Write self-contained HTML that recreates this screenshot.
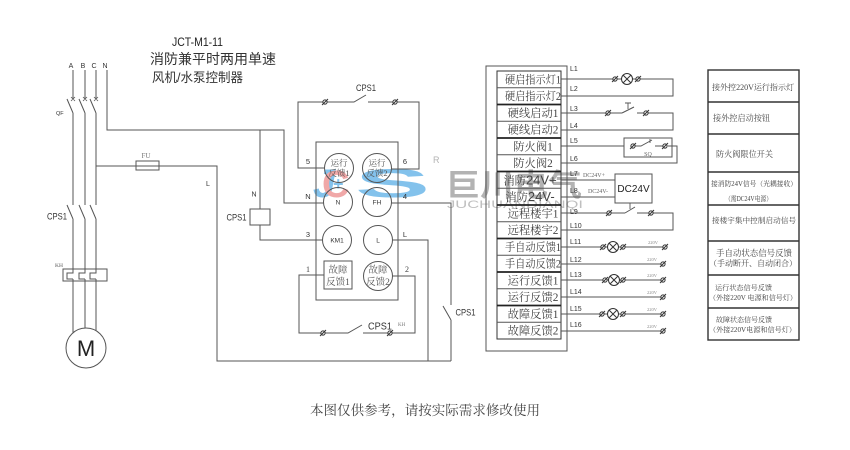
<!DOCTYPE html>
<html><head><meta charset="utf-8"><style>
html,body{margin:0;padding:0;background:#fff;}
svg{display:block;}
</style></head><body>
<svg width="850" height="450" viewBox="0 0 850 450" xmlns="http://www.w3.org/2000/svg">
<defs>
<g id="o"><circle r="2.1" fill="#fff" stroke="#333" stroke-width="1"/><line x1="-3" y1="3" x2="3" y2="-3" stroke="#333" stroke-width="1"/></g>
<g id="lamp"><circle r="5.5" fill="#fff" stroke="#333"/><line x1="-3.9" y1="-3.9" x2="3.9" y2="3.9" stroke="#333"/><line x1="-3.9" y1="3.9" x2="3.9" y2="-3.9" stroke="#333"/></g>
</defs>
<rect width="850" height="450" fill="#fff"/>

<!-- watermark -->
<g opacity="0.75">
<text x="313" y="197" font-family="Liberation Sans, sans-serif" font-weight="bold" font-style="italic" font-size="40" fill="#5aaee6">J</text>
<text x="322" y="197" font-family="Liberation Sans, sans-serif" font-weight="bold" font-size="38" fill="#ec8c8c">C</text>
<text x="333" y="190" font-family="Liberation Sans, sans-serif" font-weight="bold" font-size="18" fill="#5aaee6">+</text>
<text x="355" y="197" font-family="Liberation Sans, sans-serif" font-weight="bold" font-size="40" fill="#5aaee6" textLength="75" lengthAdjust="spacingAndGlyphs">S</text>
<text x="433" y="163" font-family="Liberation Sans, sans-serif" font-size="9" fill="#999">R</text>
<text x="446" y="196" font-family="Liberation Sans, 'Noto Sans CJK SC', sans-serif" font-weight="bold" font-size="31" fill="#9a9a9a" textLength="136" lengthAdjust="spacingAndGlyphs">巨川电气</text>
<text x="447" y="208" font-family="Liberation Sans, sans-serif" font-size="11" fill="#aaa" textLength="136" lengthAdjust="spacingAndGlyphs">JUCHUANDIANQI</text>
</g>

<!-- title -->
<text x="172" y="46" font-family="Liberation Sans, sans-serif" font-size="12" fill="#222" textLength="51" lengthAdjust="spacingAndGlyphs">JCT-M1-11</text>
<text x="150" y="64" font-family="Liberation Sans, 'Noto Sans CJK SC', sans-serif" font-size="14" fill="#333" textLength="126" lengthAdjust="spacingAndGlyphs">消防兼平时两用单速</text>
<text x="152" y="82" font-family="Liberation Sans, 'Noto Sans CJK SC', sans-serif" font-size="13" fill="#333" textLength="91" lengthAdjust="spacingAndGlyphs">风机/水泵控制器</text>

<g font-family="Liberation Sans, sans-serif" font-size="7" fill="#333" text-anchor="middle">
<text x="71" y="68">A</text><text x="83" y="68">B</text><text x="94" y="68">C</text><text x="105" y="68">N</text>
</g>
<text x="56" y="115" font-family="Liberation Sans, sans-serif" font-size="5.5" fill="#333">QF</text>
<text x="55" y="267" font-family="Liberation Serif, serif" font-size="5.5" fill="#555">KH</text>
<text x="146" y="158" font-family="Liberation Serif, serif" font-size="7" fill="#777" text-anchor="middle">FU</text>

<g stroke="#555" stroke-width="1" fill="none">
<!-- three phase lines -->
<path d="M73,70V99 M67,99L73,113 M73,113V205 M67,205L73,219 M73,219V273 H67V279H73 M73,279V333"/>
<path d="M85,70V99 M79,99L85,113 M85,113V205 M79,205L85,219 M85,219V273 H79V279H85 M85,279V328"/>
<path d="M96,70V99 M90,99L96,113 M96,113V205 M90,205L96,219 M96,219V273 H90V279H96 M96,279V331"/>
<path d="M71,97l4,4 M75,97l-4,4 M83,97l4,4 M87,97l-4,4 M94,97l4,4 M98,97l-4,4" stroke-width="0.8"/>
<rect x="63" y="269" width="44" height="12"/>
<circle cx="86" cy="348" r="20"/>
<!-- N -->
<path d="M107,70V130H284V203H323.5"/>
<path d="M260,130V209 M260,225V240H322.5"/>
<rect x="250" y="209" width="20" height="16"/>
<!-- L with fuse -->
<path d="M96,166H217V361H451"/>
<rect x="136" y="161" width="23" height="9"/>
<path d="M392.5,240H428V361"/>
<path d="M391.5,203H451V305 M443,306L451,320 M451,320V361"/>
<!-- top loop -->
<path d="M324.5,168H298V102H354L366,95 M368,102H419V169H391.5"/>
<!-- bottom loop -->
<path d="M324,275H299V333H348L362,325 M363,333H415V276H392.5"/>
<!-- module -->
<rect x="316" y="142" width="82" height="158"/>
<circle cx="339" cy="168" r="14.5"/>
<circle cx="377" cy="168" r="14.5"/>
<circle cx="338" cy="202" r="14.5"/>
<circle cx="377" cy="202" r="14.5"/>
<circle cx="337" cy="240" r="14.5"/>
<circle cx="378" cy="240" r="14.5"/>
<circle cx="378" cy="276" r="14.5"/>
<rect x="324" y="261" width="28" height="28"/>
</g>
<use href="#o" x="325" y="102"/><use href="#o" x="395" y="102"/>
<use href="#o" x="323" y="333"/><use href="#o" x="390" y="333"/>

<text x="86" y="356" font-family="Liberation Sans, sans-serif" font-size="22" fill="#222" text-anchor="middle">M</text>

<g font-family="Liberation Sans, sans-serif" fill="#333">
<text x="57" y="219.5" font-size="9.5" text-anchor="middle" textLength="20" lengthAdjust="spacingAndGlyphs">CPS1</text>
<text x="236.5" y="220.5" font-size="9.5" text-anchor="middle" textLength="20" lengthAdjust="spacingAndGlyphs">CPS1</text>
<text x="366" y="91" font-size="9.5" text-anchor="middle" textLength="20" lengthAdjust="spacingAndGlyphs">CPS1</text>
<text x="465.5" y="315.5" font-size="9.5" text-anchor="middle" textLength="20" lengthAdjust="spacingAndGlyphs">CPS1</text>
<text x="380" y="329.5" font-size="10" text-anchor="middle" textLength="24" lengthAdjust="spacingAndGlyphs">CPS1</text>
<text x="208" y="186" font-size="7" text-anchor="middle">L</text>
<text x="254" y="196.5" font-size="7" text-anchor="middle">N</text>
<g font-size="7.5" text-anchor="middle">
<text x="308" y="164">5</text><text x="405" y="164">6</text>
<text x="308" y="199">N</text><text x="405" y="199">4</text>
<text x="308" y="237">3</text><text x="405" y="237">L</text>
</g>
<g font-size="6.5" text-anchor="middle">
<text x="338" y="204.5">N</text><text x="377" y="204.5">FH</text>
<text x="337" y="242.5">KM1</text><text x="378" y="242.5">L</text>
</g>
</g>
<text x="398" y="326" font-family="Liberation Serif, serif" font-size="5" fill="#777">KH</text>
<g font-family="Liberation Serif, serif" font-size="8" fill="#444" text-anchor="middle">
<text x="308" y="272">1</text><text x="407" y="272">2</text>
</g>
<g font-family="Liberation Serif, 'Noto Serif CJK SC', serif" fill="#555" text-anchor="middle">
<text x="339" y="166" font-size="8.5">运行</text><text x="339" y="176" font-size="8.5">反馈1</text>
<text x="377" y="166" font-size="8.5">运行</text><text x="377" y="176" font-size="8.5">反馈2</text>
<text x="338" y="273" font-size="9.5">故障</text><text x="338" y="285" font-size="9.5">反馈1</text>
<text x="378" y="273" font-size="9.5">故障</text><text x="378" y="285" font-size="9.5">反馈2</text>
</g>

<!-- terminal block -->
<g stroke="#555" fill="none">
<rect x="486" y="66" width="81" height="285"/>
<rect x="497" y="71" width="64" height="268" stroke="#333"/>
<path d="M497,87.75H561 M497,121.25H561 M497,154.75H561 M497,188.25H561 M497,221.75H561 M497,255.25H561 M497,288.75H561 M497,322.25H561"/>
<path d="M497,104.5H561 M497,138H561 M497,171.5H561 M497,205H561 M497,238.5H561 M497,272H561 M497,305.5H561" stroke="#222" stroke-width="1.8"/>
</g>
<g font-family="Liberation Serif, 'Noto Serif CJK SC', serif" font-size="11.3" fill="#444" text-anchor="middle">
<text x="533" y="83.4" textLength="56" lengthAdjust="spacingAndGlyphs">硬启指示灯1</text>
<text x="533" y="100.1" textLength="56" lengthAdjust="spacingAndGlyphs">硬启指示灯2</text>
<text x="533" y="116.9">硬线启动1</text>
<text x="533" y="133.6">硬线启动2</text>
<text x="533" y="150.4">防火阀1</text>
<text x="533" y="167.1">防火阀2</text>
<text x="530" y="184.4">消防<tspan font-family="Liberation Sans, sans-serif" font-size="13">24V+</tspan></text>
<text x="530" y="201.1">消防<tspan font-family="Liberation Sans, sans-serif" font-size="13">24V-</tspan></text>
<text x="533" y="217.4">远程楼宇1</text>
<text x="533" y="234.1">远程楼宇2</text>
<text x="533" y="250.9" textLength="56" lengthAdjust="spacingAndGlyphs">手自动反馈1</text>
<text x="533" y="267.6" textLength="56" lengthAdjust="spacingAndGlyphs">手自动反馈2</text>
<text x="533" y="284.4">运行反馈1</text>
<text x="533" y="301.1">运行反馈2</text>
<text x="533" y="317.9">故障反馈1</text>
<text x="533" y="334.6">故障反馈2</text>
</g>
<g font-family="Liberation Sans, sans-serif" font-size="7" fill="#333">
<text x="570" y="71">L1</text><text x="570" y="91">L2</text>
<text x="570" y="111">L3</text><text x="570" y="128">L4</text>
<text x="570" y="143">L5</text><text x="570" y="161">L6</text>
<text x="570" y="176">L7</text><text x="570" y="193">L8</text>
<text x="570" y="214">L9</text><text x="570" y="228">L10</text>
<text x="570" y="244">L11</text><text x="570" y="262">L12</text>
<text x="570" y="277">L13</text><text x="570" y="294">L14</text>
<text x="570" y="311">L15</text><text x="570" y="327">L16</text>
</g>

<!-- wiring -->
<g stroke="#555" fill="none">
<path d="M561,79H673V96H561"/>
<path d="M561,113H622 M622,113L634,107 M637,113H673V130H561"/>
<path d="M628,103V109 M625,103H631" stroke-width="0.9"/>
<path d="M561,146H624 M668,146H677V163H561"/>
<rect x="624" y="138" width="48" height="19"/>
<path d="M633,146H641 L652,140 M650,139V143 M655,146H665" stroke-width="0.9"/>
<path d="M561,180H615 M561,197H615"/>
<rect x="615" y="174" width="37" height="29"/>
<path d="M561,213H625 M625,213L635,207 M637,213H673V230H561"/>
<path d="M630,203V209 M627,203H633" stroke-width="0.9"/>
<path d="M561,247H665"/>
<path d="M561,264H663"/>
<path d="M561,280H663"/>
<path d="M561,297H663"/>
<path d="M561,314H663"/>
<path d="M561,331H663"/>
</g>
<use href="#o" x="615" y="79"/><use href="#lamp" x="627" y="79"/><use href="#o" x="638" y="79"/>
<use href="#o" x="608" y="113"/><use href="#o" x="646" y="113"/>
<use href="#o" x="633" y="146"/><use href="#o" x="665" y="146"/>
<use href="#o" x="609" y="213"/><use href="#o" x="651" y="213"/>
<use href="#o" x="603" y="247"/><use href="#lamp" x="613" y="247"/><use href="#o" x="623" y="247"/><use href="#o" x="665" y="247"/>
<use href="#o" x="663" y="264"/>
<use href="#o" x="605" y="280"/><use href="#lamp" x="614" y="280"/><use href="#o" x="623" y="280"/><use href="#o" x="663" y="280"/>
<use href="#o" x="663" y="297"/>
<use href="#o" x="602" y="314"/><use href="#lamp" x="613" y="314"/><use href="#o" x="623" y="314"/><use href="#o" x="663" y="314"/>
<use href="#o" x="663" y="331"/>

<g font-family="Liberation Serif, serif" fill="#666">
<text x="648" y="156" font-size="6" text-anchor="middle">SQ</text>
<text x="594" y="177" font-size="6" text-anchor="middle">DC24V+</text>
<text x="598" y="193" font-size="6" text-anchor="middle">DC24V-</text>
<g font-size="4.5" fill="#888" text-anchor="middle">
<text x="653" y="244">220V</text><text x="652" y="261">220V</text><text x="652" y="277">220V</text>
<text x="652" y="294">220V</text><text x="652" y="311">220V</text><text x="652" y="328">220V</text>
</g>
</g>
<text x="633.5" y="192" font-family="Liberation Sans, sans-serif" font-size="10" fill="#222" text-anchor="middle">DC24V</text>

<!-- right table -->
<g stroke="#333" stroke-width="1.4" fill="none">
<rect x="708" y="70" width="91" height="270"/>
<path d="M708,102H799 M708,134H799 M708,172H799 M708,205H799 M708,241H799 M708,275H799 M708,308H799"/>
</g>
<g font-family="Liberation Serif, 'Noto Serif CJK SC', serif" fill="#444">
<text x="712" y="90" font-size="8.2" textLength="82" lengthAdjust="spacingAndGlyphs">接外控220V运行指示灯</text>
<text x="713" y="121" font-size="8.5" textLength="57" lengthAdjust="spacingAndGlyphs">接外控启动按钮</text>
<text x="716" y="157" font-size="8.5" textLength="57" lengthAdjust="spacingAndGlyphs">防火阀限位开关</text>
<text x="711" y="186" font-size="7" textLength="86" lengthAdjust="spacingAndGlyphs">接消防24V信号（光耦接收）</text>
<text x="725" y="201" font-size="7" textLength="47" lengthAdjust="spacingAndGlyphs">（需DC24V电源）</text>
<text x="712" y="223" font-size="7.6" textLength="84" lengthAdjust="spacingAndGlyphs">接楼宇集中控制启动信号</text>
<text x="716" y="256" font-size="8.4" textLength="76" lengthAdjust="spacingAndGlyphs">手自动状态信号反馈</text>
<text x="709" y="266" font-size="8" textLength="88" lengthAdjust="spacingAndGlyphs">（手动断开、自动闭合）</text>
<text x="715" y="290" font-size="7" textLength="57" lengthAdjust="spacingAndGlyphs">运行状态信号反馈</text>
<text x="709" y="300" font-size="7" textLength="88" lengthAdjust="spacingAndGlyphs">（外接220V 电源和信号灯）</text>
<text x="716" y="322" font-size="7" textLength="56" lengthAdjust="spacingAndGlyphs">故障状态信号反馈</text>
<text x="709" y="332" font-size="7" textLength="87" lengthAdjust="spacingAndGlyphs">（外接220V电源和信号灯）</text>
</g>

<!-- footer -->
<text x="310" y="415" font-family="Liberation Serif, 'Noto Serif CJK SC', serif" font-size="13.5" fill="#444" textLength="230" lengthAdjust="spacingAndGlyphs">本图仅供参考，请按实际需求修改使用</text>
</svg>
</body></html>
